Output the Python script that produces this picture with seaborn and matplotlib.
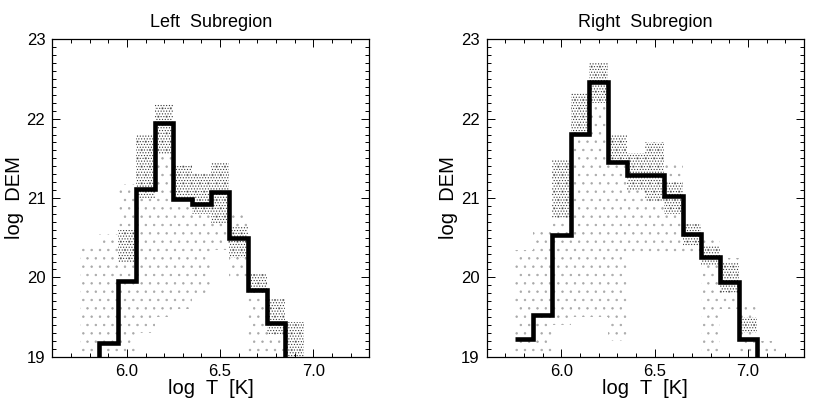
import numpy as np
import matplotlib
matplotlib.use("Agg")
import matplotlib.pyplot as plt
import seaborn as sns

# log T bin centres (bin width 0.1)
logt_left = [5.8, 5.9, 6.0, 6.1, 6.2, 6.3, 6.4, 6.5, 6.6, 6.7, 6.8, 6.9]
logt_right = [5.8, 5.9, 6.0, 6.1, 6.2, 6.3, 6.4, 6.5, 6.6, 6.7, 6.8, 6.9, 7.0, 7.1]

# best-fit DEM (thick line); values below 19 fall off the plot
dem_left = [18.7, 19.17, 19.96, 21.11, 21.95, 20.99, 20.93, 21.07, 20.50, 19.84, 19.43, 18.8]
dem_right = [19.22, 19.53, 20.54, 21.81, 22.46, 21.46, 21.29, 21.29, 21.03, 20.55,
             20.26, 19.94, 19.23, 18.8]

# spread of the Monte Carlo realisations: full range and the dense core
mc_lo_left = [19.0, 19.0, 19.0, 19.3, 19.5, 19.6, 19.8, 20.35, 20.0, 19.0, 19.0, 19.0]
mc_hi_left = [20.40, 20.55, 21.18, 21.79, 22.18, 21.41, 21.32, 21.46, 20.84, 20.04, 19.73, 19.44]
core_lo_left = [19.0, 19.0, 20.2, 21.0, 21.56, 20.95, 20.80, 20.68, 20.25, 19.80, 19.28, 19.0]
core_hi_left = [19.0, 19.0, 20.6, 21.79, 22.18, 21.41, 21.32, 21.46, 20.65, 20.04, 19.73, 19.44]

mc_lo_right = [19.0, 19.0, 19.4, 19.5, 19.5, 19.2, 20.3, 20.3, 20.3, 20.3, 19.0, 19.6, 19.0, 19.0]
mc_hi_right = [20.34, 20.60, 21.48, 22.32, 22.71, 21.80, 21.57, 21.70, 21.44, 20.67,
               20.48, 20.24, 19.66, 19.20]
core_lo_right = [19.0, 19.0, 20.75, 21.80, 22.20, 21.46, 21.10, 20.95, 20.80, 20.40,
                 20.15, 19.80, 19.30, 19.0]
core_hi_right = [19.0, 19.0, 21.48, 22.32, 22.71, 21.80, 21.57, 21.70, 21.20, 20.67,
                 20.40, 20.20, 19.50, 19.0]

titles = ["Left  Subregion", "Right  Subregion"]

sns.set_theme(style="ticks")
plt.rcParams["font.family"] = ["Liberation Sans", "DejaVu Sans"]
plt.rcParams["hatch.linewidth"] = 0.5
for key in ["text.color", "axes.labelcolor", "xtick.color", "ytick.color"]:
    plt.rcParams[key] = "black"

fig = plt.figure(figsize=(8.17, 4.05), dpi=100)
ax_left = fig.add_axes([0.064, 0.119, 0.388, 0.784])
ax_right = fig.add_axes([0.5957, 0.119, 0.3884, 0.784])

panels = [
    (ax_left, logt_left, dem_left, mc_lo_left, mc_hi_left, core_lo_left, core_hi_left),
    (ax_right, logt_right, dem_right, mc_lo_right, mc_hi_right, core_lo_right, core_hi_right),
]

for i, (ax, logt, dem, lo, hi, clo, chi) in enumerate(panels):
    logt = np.array(logt)
    lo, hi, clo, chi = map(np.array, (lo, hi, clo, chi))
    # sparse dots over the full spread, denser dots in the core
    ax.bar(logt, hi - lo, bottom=lo, width=0.1, fill=False, edgecolor="#a8a8a8",
           linewidth=0, hatch="..", zorder=1)
    ax.bar(logt, chi - clo, bottom=clo, width=0.1, fill=False, edgecolor="#3a3a3a",
           linewidth=0, hatch="......", zorder=2)
    edges = np.append(logt - 0.05, logt[-1] + 0.05)
    ax.stairs(dem, edges, baseline=None, color="black", linewidth=3.3, zorder=3)

    ax.set_xlim(5.6, 7.3)
    ax.set_ylim(19, 23)
    ax.set_xticks([6.0, 6.5, 7.0])
    ax.set_xticks(np.arange(5.7, 7.25, 0.1), minor=True)
    ax.set_yticks([19, 20, 21, 22, 23])
    ax.set_yticks(np.arange(19.1, 23.0, 0.1), minor=True)
    ax.xaxis.set_major_formatter(matplotlib.ticker.FormatStrFormatter("%.1f"))
    ax.tick_params(which="both", direction="in", top=True, right=True,
                   width=0.7, labelsize=12)
    ax.tick_params(which="major", length=6, pad=5)
    ax.tick_params(which="minor", length=3)
    for sp in ax.spines.values():
        sp.set_linewidth(0.9)
        sp.set_color("black")
    ax.set_title(titles[i], fontsize=13, pad=9)
    ax.set_xlabel("log  T  [K]", fontsize=14.5, labelpad=0)
    ax.set_ylabel("log  DEM", fontsize=14.5, labelpad=2)

fig.savefig("out.png", dpi=100, facecolor="white")
